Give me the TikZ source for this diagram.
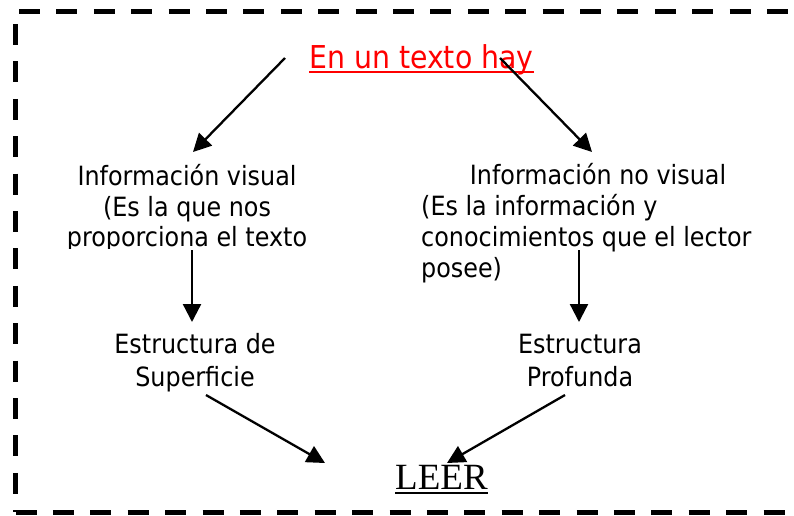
\documentclass[tikz,border=0pt]{standalone}
\usepackage{fontspec}
\setmainfont[FakeStretch=0.9]{DejaVu Sans}
\newfontfamily\leerfont{Liberation Serif}
\usetikzlibrary{arrows.meta}
\begin{document}
\begin{tikzpicture}[x=1pt,y=-1pt,
  frame/.style={line width=5pt,dash pattern=on 21pt off 16.4pt},
  arr/.style={line width=2.3pt,-{Triangle[length=18pt,width=18pt]}},
  txt/.style={inner sep=0pt,font=\fontsize{26.5}{31}\selectfont},
  ulined/.style={line width=2pt}]
\useasboundingbox (0,0) rectangle (794,515);
% dashed frame
\draw[frame] (19,11) -- (794,11);
\draw[frame] (15.5,24) -- (15.5,512);
\draw[frame] (15.5,512) -- (794,512);
% title
\node[inner sep=0pt,anchor=base west,text=red,font=\fontsize{31.5}{34}\selectfont] (title) at (309,68) {En un texto hay};
\draw[ulined,red] (title.base west |- 0,72) -- (title.base east |- 0,72);
% left block (clipped at the bottom)
\begin{scope}
\clip (50,150) rectangle (330,248.5);
\node[txt,anchor=base] (vis1) at (187,185) {Información visual};
\node[txt,anchor=base] (vis2) at (187,216) {(Es la que nos};
\node[txt,anchor=base] (vis3) at (187,246) {proporciona el texto};
\end{scope}
% right block
\node[txt,anchor=base] (nov1) at (598,184) {Información no visual};
\node[txt,anchor=base west] (nov2) at (421,215) {(Es la información y};
\node[txt,anchor=base west] (nov3) at (421,246) {conocimientos que el lector};
\node[txt,anchor=base west] (nov4) at (421,277) {posee)};
% structures
\node[txt,anchor=base] (sup1) at (195,353) {Estructura de};
\node[txt,anchor=base] (sup2) at (195,386) {Superficie};
\node[txt,anchor=base] (pro1) at (580,353) {Estructura};
\node[txt,anchor=base] (pro2) at (580,386) {Profunda};
% LEER
\node[inner sep=0pt,anchor=base west,font=\leerfont\fontsize{37}{40}\selectfont] (leer) at (395,489) {LEER};
\draw[ulined] (leer.base west |- 0,493) -- (leer.base east |- 0,493);
% connector end points
\coordinate (a1s) at (285,58);  \coordinate (a1e) at (193,152);
\coordinate (a2s) at (500,58);  \coordinate (a2e) at (592,152);
\coordinate (a3s) at (192,250); \coordinate (a3e) at (192,322);
\coordinate (a4s) at (579,250); \coordinate (a4e) at (579,322);
\coordinate (a5s) at (206,395); \coordinate (a5e) at (325,463);
\coordinate (a6s) at (565,395); \coordinate (a6e) at (447,463);
\draw[arr] (a1s) -- (a1e);
\draw[arr] (a2s) -- (a2e);
\draw[arr] (a3s) -- (a3e);
\draw[arr] (a4s) -- (a4e);
\draw[arr] (a5s) -- (a5e);
\draw[arr] (a6s) -- (a6e);
\end{tikzpicture}
\end{document}
